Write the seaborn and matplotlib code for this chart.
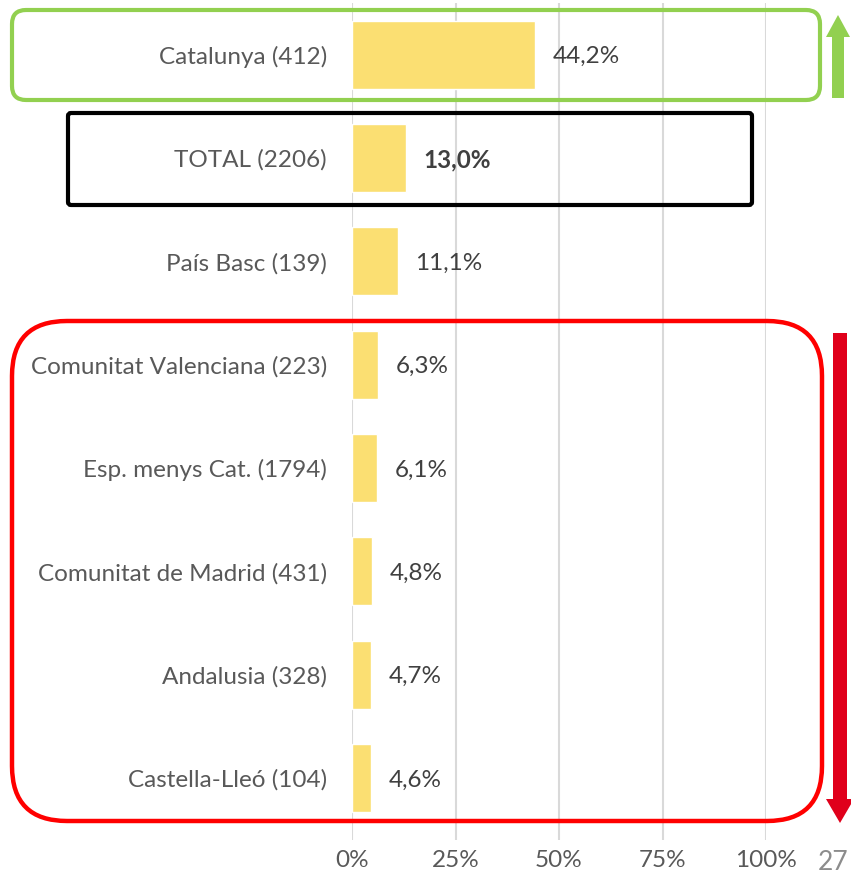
import matplotlib
matplotlib.use("Agg")
import matplotlib.pyplot as plt
import seaborn as sns
import pandas as pd
from matplotlib.patches import FancyBboxPatch, FancyArrow

categories = ["Catalunya (412)", "TOTAL (2206)", "País Basc (139)",
              "Comunitat Valenciana (223)", "Esp. menys Cat. (1794)",
              "Comunitat de Madrid (431)", "Andalusia (328)", "Castella-Lleó (104)"]
values = [44.2, 13.0, 11.1, 6.3, 6.1, 4.8, 4.7, 4.6]
xticks = [0, 25, 50, 75, 100]
xtick_labels = ["0%", "25%", "50%", "75%", "100%"]

sns.set_theme(style="white")
plt.rcParams['font.family'] = ['Lato', 'DejaVu Sans']

W, H = 851, 873
fig = plt.figure(figsize=(W / 100, H / 100), dpi=100)

def px_ax(x0, y0, x1, y1):
    return [x0 / W, 1 - y1 / H, (x1 - x0) / W, (y1 - y0) / H]

ax = fig.add_axes(px_ax(352, 3, 766, 840))
df = pd.DataFrame({"cat": categories, "val": values})
sns.barplot(data=df, x="val", y="cat", color="#FBDF72", width=0.66,
            saturation=1, ax=ax, zorder=2)
ax.set_xlim(0, 100)
ax.set_ylim(7.6, -0.5)
ax.set_xticks(xticks)
ax.set_xticklabels(xtick_labels)
ax.set_xlabel("")
ax.set_ylabel("")
for s in ax.spines.values():
    s.set_visible(False)
ax.grid(axis="x", color="#D9D9D9", linewidth=1.5, zorder=0)
ax.set_axisbelow(True)
ax.tick_params(axis="both", length=0, colors="#595959", labelsize=17.5)
ax.tick_params(axis="y", pad=18)
ax.tick_params(axis="x", pad=7)
for t in ax.get_yticklabels() + ax.get_xticklabels():
    t.set_color("#595959")

for i, v in enumerate(values):
    lbl = f"{v:.1f}".replace(".", ",") + "%"
    ax.text(v + 4.2, i, lbl, va="center_baseline", ha="left", fontsize=17.5,
            color="#404040", fontweight="bold" if categories[i].startswith("TOTAL") else "normal")

tr = fig.dpi_scale_trans

def box(x0, y0, x1, y1, color, lw, r):
    p = FancyBboxPatch((x0 / 100, (H - y1) / 100), (x1 - x0) / 100, (y1 - y0) / 100,
                       boxstyle=f"round,pad=0,rounding_size={r / 100}",
                       transform=tr, fill=False, edgecolor=color, linewidth=lw,
                       figure=fig)
    fig.patches.append(p)

box(12, 10, 820, 100, "#92D050", 3, 14)
box(68, 113, 752, 205, "#000000", 3, 3)
box(12, 321, 822, 821, "#FF0000", 3.2, 55)

def arrow(x, y0, y1, color, w, hw, hl):
    a = FancyArrow(x / 100, (H - y0) / 100, 0, -(y1 - y0) / 100,
                   width=w / 100, head_width=hw / 100, head_length=hl / 100,
                   length_includes_head=True, transform=tr, color=color,
                   linewidth=0, figure=fig)
    fig.patches.append(a)

arrow(838, 98, 15, "#92D050", 12, 24, 22)
arrow(840, 333, 823, "#E0001B", 14, 28, 24)

fig.text(833 / W, 1 - 862 / H, "27", fontsize=19, color="#8C8C8C",
         ha="center", va="center")

fig.savefig("out.png", dpi=100)
